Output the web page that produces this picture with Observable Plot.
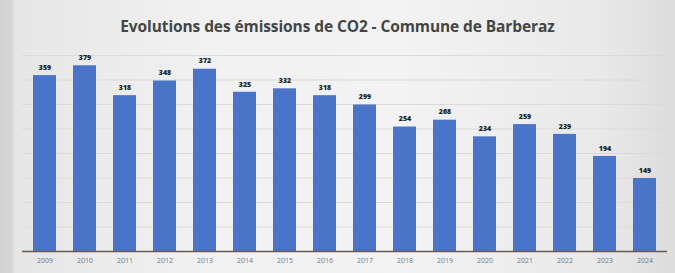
<!DOCTYPE html>
<html><head><meta charset="utf-8">
<script src="https://cdn.jsdelivr.net/npm/d3@7"></script>
<script src="https://cdn.jsdelivr.net/npm/@observablehq/plot@0.6"></script>
<style>
body{margin:0;}
#wrap{width:675px;height:273px;position:relative;overflow:hidden;
 background:linear-gradient(90deg,#d2d2d2 0px,#d6d6d6 12px,#e6e6e6 14px,#f1f1f1 200px,#f3f3f3 400px,#e9e9e9 600px,#dcdcdc 675px);}
#title{position:absolute;left:0;top:15px;width:675px;text-align:center;font-family:"Open Sans",sans-serif;font-weight:700;font-size:15.5px;color:#454545;letter-spacing:-0.1px;}
#chart{position:absolute;left:0;top:46px;}
</style></head><body>
<div id="wrap"><div id="title">Evolutions des émissions de CO2 - Commune de Barberaz</div><div id="chart"></div></div>
<script>
const years = ["2009","2010","2011","2012","2013","2014","2015","2016","2017","2018","2019","2020","2021","2022","2023","2024"];
const values = [359,379,318,348,372,325,332,318,299,254,268,234,259,239,194,149];
const gridTicks = [50,100,150,200,250,300,350,400];
const data = years.map((y,i)=>({year:y, value:values[i]}));
const chart = Plot.plot({
  width: 675, height: 227,
  marginLeft: 22, marginRight: 8, marginTop: 9, marginBottom: 22,
  style: {background: "transparent", fontFamily: "Open Sans, sans-serif"},
  x: {domain: years, paddingInner: 0.42, paddingOuter: 0.2, label: null, tickSize: 0, tickPadding: 7},
  y: {domain: [0, 400], axis: null},
  marks: [
    Plot.ruleY(gridTicks, {stroke: "#e0d8d8", strokeWidth: 1}),
    Plot.barY(data, {x: "year", y: "value", fill: "#4a74c8"}),
    Plot.ruleY([0], {stroke: "#6b5a50", strokeWidth: 1.5}),
    Plot.text(data, {x: "year", y: "value", text: d => String(d.value), dy: -8, fontSize: 7, fontWeight: 800, fill: "#222"}),
    Plot.axisX({tickSize: 0, tickPadding: 7, fontSize: 7, color: "#777"})
  ]
});
document.getElementById("chart").appendChild(chart);
</script>
</body></html>
